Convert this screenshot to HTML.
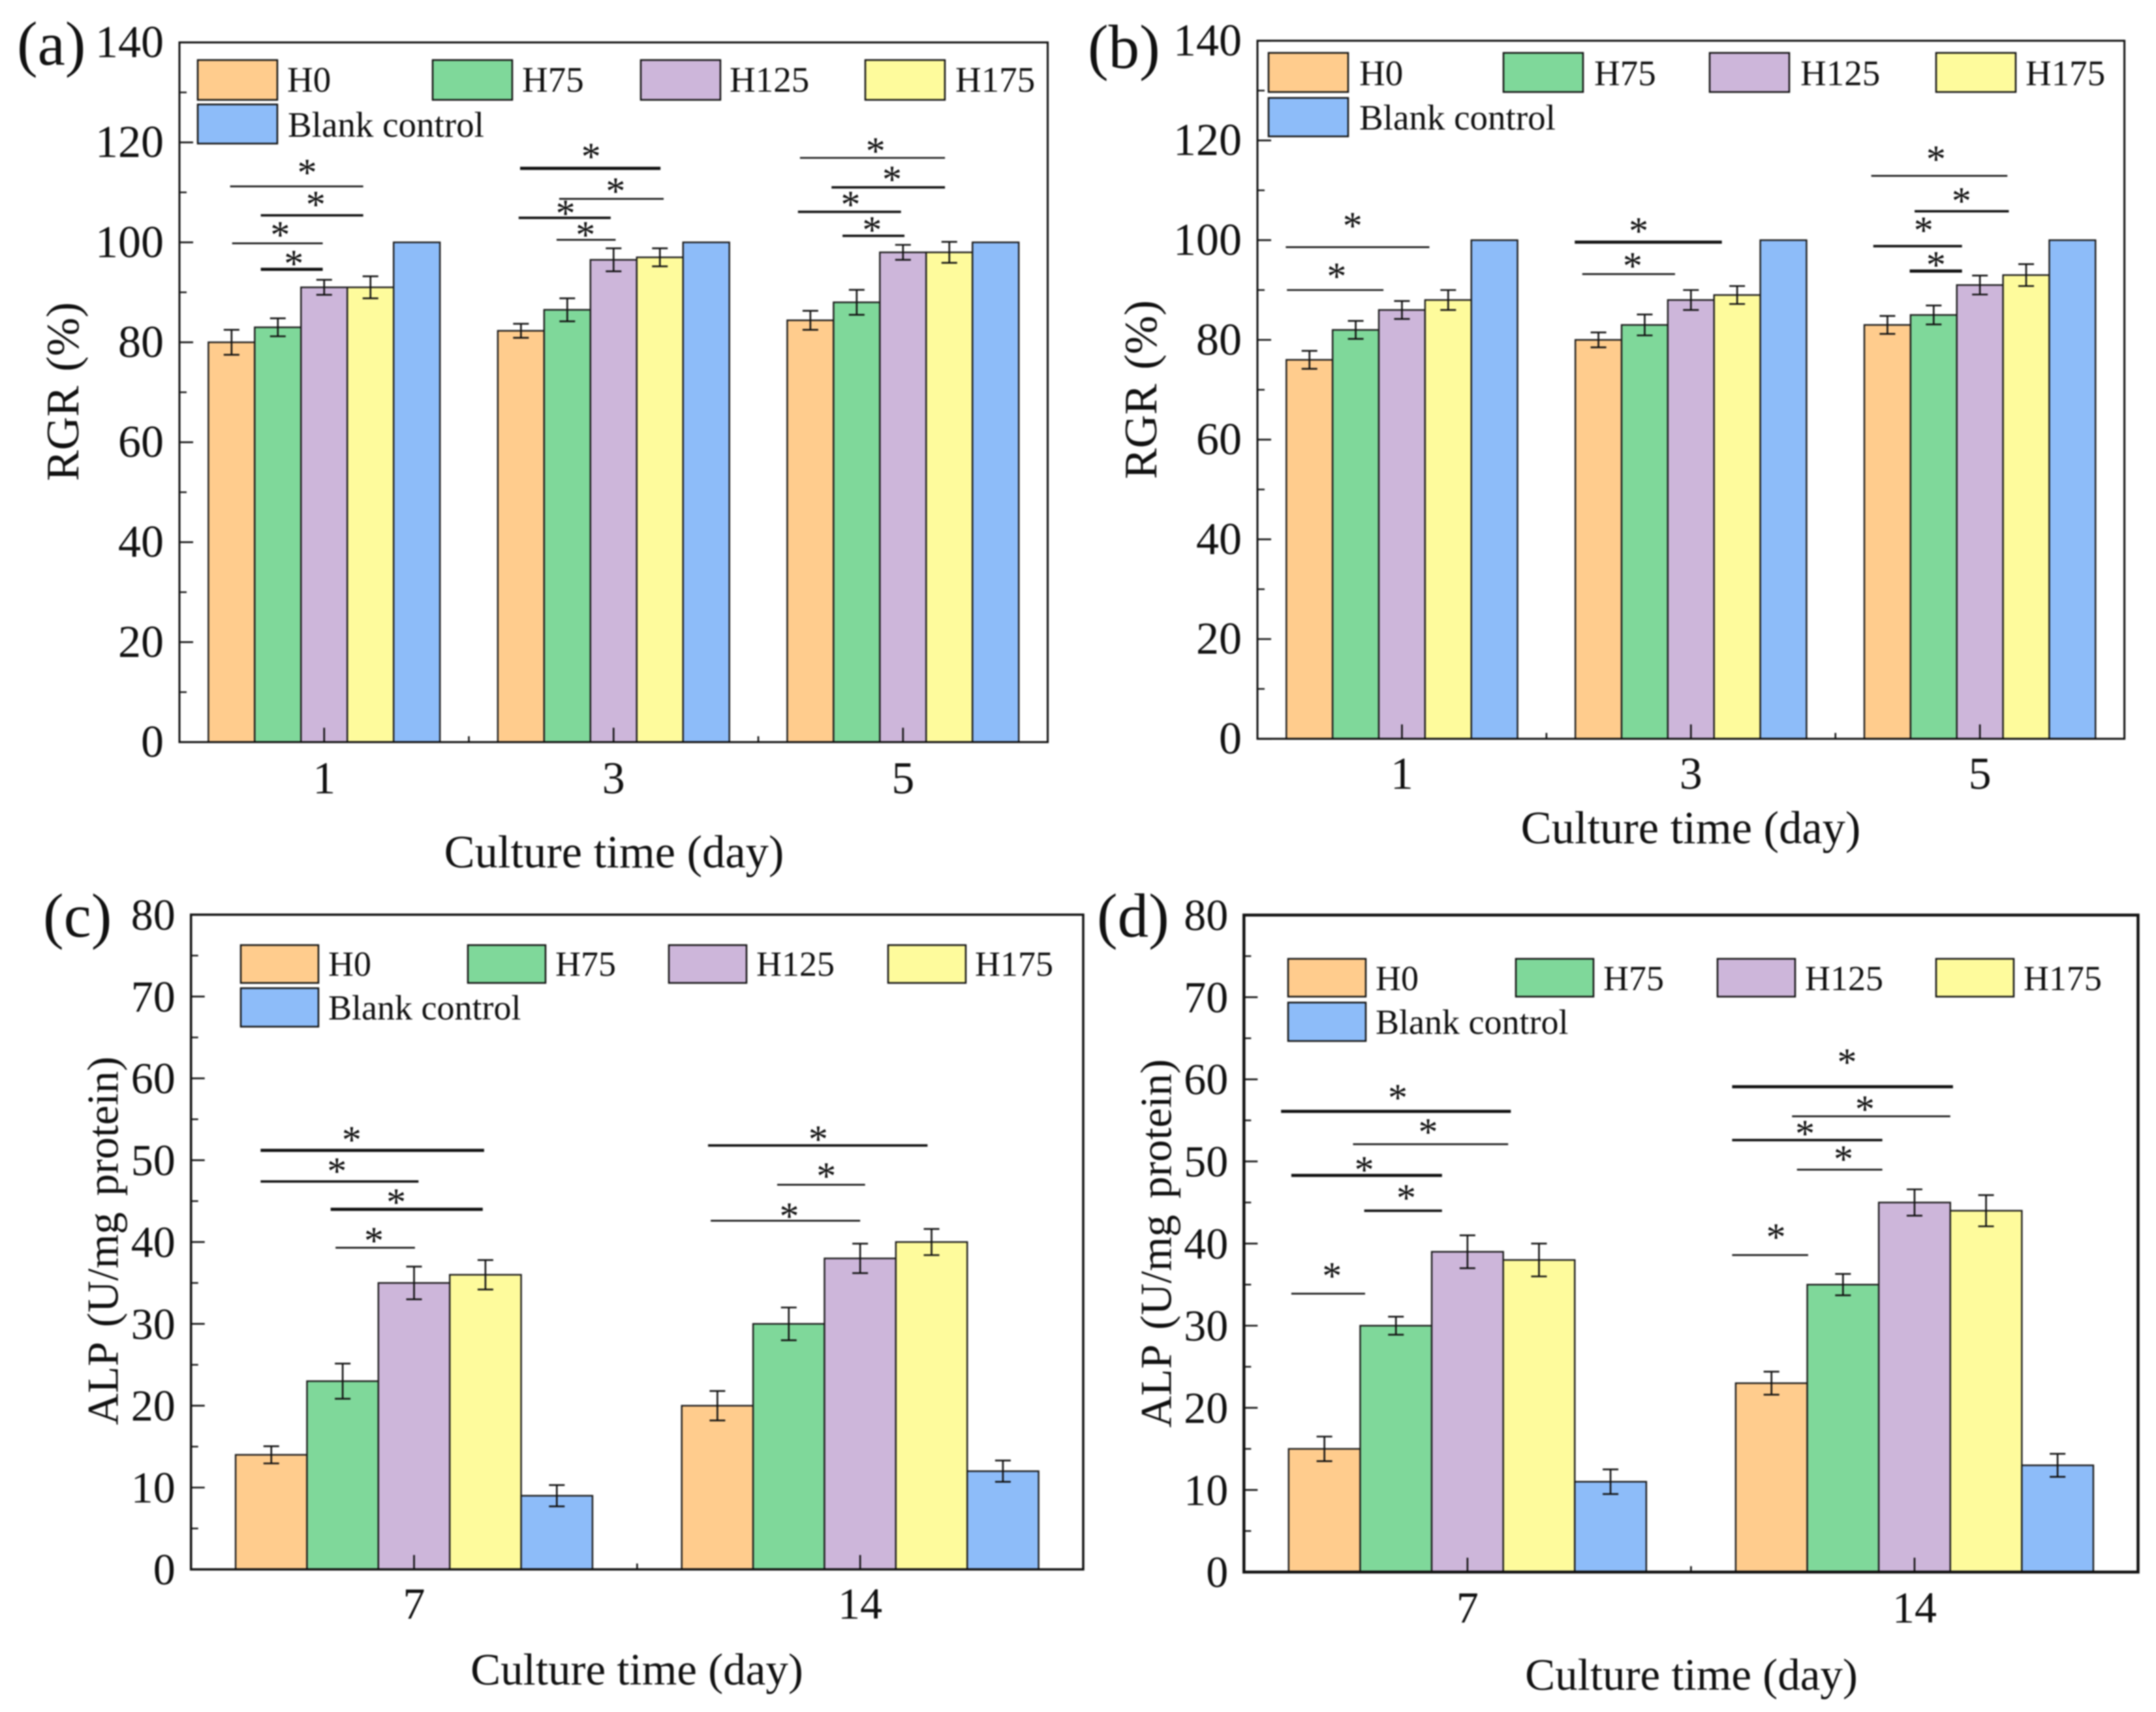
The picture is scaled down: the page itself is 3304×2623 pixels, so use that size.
<!DOCTYPE html>
<html lang="en">
<head>
<meta charset="utf-8">
<title>RGR and ALP bar charts</title>
<style>
html,body{margin:0;padding:0;background:#fff;}
svg{display:block;filter:blur(1px);}
text{font-family:"Liberation Serif",serif;fill:#111;}
.sw{stroke:#111;stroke-width:2.5;}
.o{fill:#FFCC8D}.g{fill:#7FD89A}.p{fill:#CDB6DA}.y{fill:#FEFB9C}.b{fill:#8DBCF9}
.lg{font-size:55px;dominant-baseline:central;}
.lg2{font-size:54px;dominant-baseline:central;}
.at{font-size:70.5px;text-anchor:middle;dominant-baseline:central;}
.at2{font-size:69px;text-anchor:middle;dominant-baseline:central;}
.yt{font-size:71px;text-anchor:middle;dominant-baseline:central;word-spacing:4px;}
.yt2{font-size:67.5px;text-anchor:middle;dominant-baseline:central;word-spacing:8px;}
.pl{font-size:95px;dominant-baseline:central;}
</style>
</head>
<body>
<svg id="fig" xmlns="http://www.w3.org/2000/svg" width="3304" height="2623" viewBox="0 0 3304 2623">
<rect width="3304" height="2623" fill="#fff"/>

<g id="pa">
  <g id="pa-marks"></g>
  <text class="pl" x="26" y="67">(a)</text>
  <text class="at" x="941" y="1306">Culture time (day)</text>
  <text class="yt" transform="translate(97 600) rotate(-90)">RGR (%)</text>
  <g>
    <rect class="sw o" x="303" y="92" width="122" height="61"/><text class="lg" x="440" y="122">H0</text>
    <rect class="sw g" x="663" y="92" width="122" height="61"/><text class="lg" x="800" y="122">H75</text>
    <rect class="sw p" x="982" y="92" width="122" height="61"/><text class="lg" x="1118" y="122">H125</text>
    <rect class="sw y" x="1326" y="92" width="122" height="61"/><text class="lg" x="1464" y="122">H175</text>
    <rect class="sw b" x="303" y="160" width="122" height="60"/><text class="lg" x="441" y="191">Blank control</text>
  </g>
</g>

<g id="pb">
  <g id="pb-marks"></g>
  <text class="pl" x="1667" y="72">(b)</text>
  <text class="at" x="2591" y="1269">Culture time (day)</text>
  <text class="yt" transform="translate(1749 597) rotate(-90)">RGR (%)</text>
  <g>
    <rect class="sw o" x="1944" y="81" width="122" height="60"/><text class="lg" x="2083" y="112">H0</text>
    <rect class="sw g" x="2304" y="81" width="122" height="60"/><text class="lg" x="2443" y="112">H75</text>
    <rect class="sw p" x="2620" y="81" width="122" height="60"/><text class="lg" x="2759" y="112">H125</text>
    <rect class="sw y" x="2967" y="81" width="122" height="60"/><text class="lg" x="3104" y="112">H175</text>
    <rect class="sw b" x="1944" y="150" width="122" height="59"/><text class="lg" x="2083" y="180">Blank control</text>
  </g>
</g>

<g id="pc">
  <g id="pc-marks"></g>
  <text class="pl" x="66" y="1403">(c)</text>
  <text class="at2" x="976" y="2558">Culture time (day)</text>
  <text class="yt2" transform="translate(158 1901) rotate(-90)">ALP (U/mg protein)</text>
  <g>
    <rect class="sw o" x="369" y="1448" width="119" height="58"/><text class="lg2" x="503" y="1477">H0</text>
    <rect class="sw g" x="717" y="1448" width="119" height="58"/><text class="lg2" x="851" y="1477">H75</text>
    <rect class="sw p" x="1025" y="1448" width="119" height="58"/><text class="lg2" x="1159" y="1477">H125</text>
    <rect class="sw y" x="1361" y="1448" width="119" height="58"/><text class="lg2" x="1494" y="1477">H175</text>
    <rect class="sw b" x="369" y="1514" width="119" height="59"/><text class="lg2" x="503" y="1544">Blank control</text>
  </g>
</g>

<g id="pd">
  <g id="pd-marks"></g>
  <text class="pl" x="1681" y="1403">(d)</text>
  <text class="at2" x="2592" y="2566">Culture time (day)</text>
  <text class="yt2" transform="translate(1772 1905) rotate(-90)">ALP (U/mg protein)</text>
  <g>
    <rect class="sw o" x="1974" y="1469" width="119" height="58"/><text class="lg2" x="2108" y="1499">H0</text>
    <rect class="sw g" x="2323" y="1469" width="119" height="58"/><text class="lg2" x="2457" y="1499">H75</text>
    <rect class="sw p" x="2632" y="1469" width="119" height="58"/><text class="lg2" x="2766" y="1499">H125</text>
    <rect class="sw y" x="2967" y="1469" width="119" height="58"/><text class="lg2" x="3101" y="1499">H175</text>
    <rect class="sw b" x="1974" y="1536" width="119" height="59"/><text class="lg2" x="2108" y="1566">Blank control</text>
  </g>
</g>
</svg>

<script>
var seriesNames = ['H0', 'H75', 'H125', 'H175', 'Blank control'];
var seriesColors = ['#FFCC8D', '#7FD89A', '#CDB6DA', '#FEFB9C', '#8DBCF9'];

var categoriesRGR = ['1', '3', '5'];
var categoriesALP = ['7', '14'];
var yTicksRGR = [0, 20, 40, 60, 80, 100, 120, 140];
var yTicksALP = [0, 10, 20, 30, 40, 50, 60, 70, 80];

/* values: one row per category, one column per series */
var valuesA = [[80, 83, 91, 91, 100], [82.3, 86.5, 96.5, 97, 100], [84.4, 88, 98, 98, 100]];
var errorsA = [[2.5, 1.8, 1.5, 2.2, 0], [1.4, 2.3, 2.3, 1.8, 0], [1.9, 2.5, 1.5, 2.1, 0]];
var valuesB = [[76, 82, 86, 88, 100], [80, 83, 88, 89, 100], [83, 85, 91, 93, 100]];
var errorsB = [[1.8, 1.8, 1.8, 2, 0], [1.5, 2.1, 2, 1.8, 0], [1.8, 1.9, 1.9, 2.2, 0]];
var valuesC = [[14, 23, 35, 36, 9], [20, 30, 38, 40, 12]];
var errorsC = [[1.05, 2.15, 2, 1.8, 1.3], [1.8, 2, 1.8, 1.6, 1.3]];
var valuesD = [[15, 30, 39, 38, 11], [23, 35, 45, 44, 13]];
var errorsD = [[1.5, 1.1, 2, 2, 1.5], [1.4, 1.3, 1.6, 1.9, 1.4]];

/* significance marks in data units:
   category index, start / end offset in categories, level, star offset, star level, line weight (0 thin, 0.5 medium, 1 heavy) */
var sigA = [
  [0, -0.325, 0.135, 111.2, -0.059, 115, 0], [0, -0.219, 0.135, 105.4, -0.029, 108.6, 0.5],
  [0, -0.318, -0.005, 99.8, -0.152, 102.5, 0], [0, -0.219, -0.005, 94.6, -0.105, 96.8, 1],
  [1, -0.323, 0.162, 114.8, -0.078, 118.2, 1], [1, -0.188, 0.173, 108.7, 0.007, 111.3, 0],
  [1, -0.328, -0.01, 104.9, -0.166, 106.8, 0.5], [1, -0.197, 0.007, 100.5, -0.097, 102.5, 0],
  [2, -0.356, 0.145, 116.9, -0.095, 119.3, 0], [2, -0.247, 0.145, 111, -0.038, 113.6, 0.5],
  [2, -0.363, -0.007, 106.1, -0.181, 108.6, 0.5], [2, -0.209, 0.005, 101.3, -0.107, 103.5, 0.5]
];
var sigB = [
  [0, -0.402, 0.095, 98.6, -0.171, 103.9, 0], [0, -0.398, -0.064, 90, -0.226, 93.8, 0],
  [1, -0.402, 0.107, 99.6, -0.181, 102.9, 1], [1, -0.376, -0.055, 93.2, -0.202, 95.9, 0],
  [2, -0.376, 0.095, 112.9, -0.152, 117.3, 0], [2, -0.226, 0.1, 105.8, -0.064, 108.9, 0.5],
  [2, -0.369, -0.062, 98.8, -0.195, 103, 0.5], [2, -0.243, -0.062, 93.8, -0.152, 96.1, 1]
];
var sigC = [
  [0, -0.344, 0.157, 51.2, -0.14, 53.1, 1], [0, -0.344, 0.01, 47.4, -0.173, 49.3, 0.5],
  [0, -0.187, 0.154, 44, -0.04, 45.5, 1], [0, -0.176, 0.002, 39.3, -0.09, 40.8, 0],
  [1, -0.341, 0.151, 51.8, -0.094, 53.2, 0.5], [1, -0.186, 0.011, 47, -0.076, 48.7, 0],
  [1, -0.335, 0, 42.6, -0.159, 43.8, 0]
];
var sigD = [
  [0, -0.417, 0.097, 56.1, -0.156, 58.4, 1], [0, -0.256, 0.091, 52.1, -0.088, 54.2, 0],
  [0, -0.394, -0.057, 48.3, -0.231, 49.6, 1], [0, -0.231, -0.057, 44, -0.137, 46.2, 0.5],
  [0, -0.394, -0.229, 33.9, -0.303, 36.7, 0],
  [1, -0.408, 0.086, 59.1, -0.151, 62.7, 1], [1, -0.274, 0.08, 55.5, -0.111, 57, 0],
  [1, -0.408, -0.072, 52.6, -0.245, 54, 0.5], [1, -0.263, -0.072, 49, -0.159, 50.9, 0],
  [1, -0.408, -0.238, 38.6, -0.31, 41.4, 0]
];

var NS = 'http://www.w3.org/2000/svg';
function mk(parent, tag, attrs) {
  var n = document.createElementNS(NS, tag);
  for (var k in attrs) { n.setAttribute(k, attrs[k]); }
  parent.appendChild(n);
  return n;
}

function drawPanel(id, box, cats, yTicks, values, errors, sig) {
  var root = document.getElementById(id + '-marks');
  var band = (box.x1 - box.x0) / cats.length;
  var barW = band * 0.16;
  var yMax = yTicks[yTicks.length - 1];
  var step = yTicks[1] - yTicks[0];
  function sx(c) { return box.x0 + (c + 0.5) * band; }
  function sy(v) { return box.y1 - (v / yMax) * (box.y1 - box.y0); }
  var el;

  values.forEach(function (row, c) {
    row.forEach(function (v, s) {
      var x = sx(c) + (s - 2.5) * barW;
      el = mk(root, 'rect', { x: x, y: sy(v), width: barW, height: box.y1 - sy(v), fill: seriesColors[s], stroke: '#1a1a1a', 'stroke-width': 2.4 });
      
      
    });
  });

  values.forEach(function (row, c) {
    row.forEach(function (v, s) {
      var e = errors[c][s];
      if (!e) { return; }
      var cx = sx(c) + (s - 2) * barW;
      var cap = 12;
      var d = 'M' + cx + ' ' + sy(v + e) + 'V' + sy(v - e) +
              'M' + (cx - cap) + ' ' + sy(v + e) + 'H' + (cx + cap) +
              'M' + (cx - cap) + ' ' + sy(v - e) + 'H' + (cx + cap);
      el = mk(root, 'path', { d: d, fill: 'none', stroke: '#111', 'stroke-width': 2.6 });
      
      
    });
  });

  sig.forEach(function (m) {
    el = mk(root, 'line', { x1: sx(m[0] + m[1]), x2: sx(m[0] + m[2]), y1: sy(m[3]), y2: sy(m[3]), stroke: '#111', 'stroke-width': 2.6 + m[6] * 2.2 });
    
    
    el = mk(root, 'text', { x: sx(m[0] + m[4]), y: sy(m[5]) + 28, 'font-size': 60, 'text-anchor': 'middle' });
    el.textContent = '*';
    
    
  });

  /* y axis ticks */
  yTicks.forEach(function (t, i) {
    el = mk(root, 'line', { x1: box.x0, x2: box.x0 + 21, y1: sy(t), y2: sy(t), stroke: '#111', 'stroke-width': 2.6 });
    
    
    el = mk(root, 'text', { x: box.x0 - 24, y: sy(t), 'font-size': box.fs, 'text-anchor': 'end', 'dominant-baseline': 'central' });
    el.textContent = String(t);
    
    
    if (i < yTicks.length - 1) {
      el = mk(root, 'line', { x1: box.x0, x2: box.x0 + 11, y1: sy(t + step / 2), y2: sy(t + step / 2), stroke: '#111', 'stroke-width': 2.4 });
      
      
    }
  });

  /* x axis ticks */
  cats.forEach(function (cat, c) {
    el = mk(root, 'line', { x1: sx(c), x2: sx(c), y1: box.y1, y2: box.y1 - 22, stroke: '#111', 'stroke-width': 2.6 });
    
    
    el = mk(root, 'text', { x: sx(c), y: box.xl, 'font-size': box.fs, 'text-anchor': 'middle', 'dominant-baseline': 'central' });
    el.textContent = cat;
    
    
    if (c < cats.length - 1) {
      el = mk(root, 'line', { x1: sx(c + 0.5), x2: sx(c + 0.5), y1: box.y1, y2: box.y1 - 9, stroke: '#111', 'stroke-width': 2.6 });
      
      
    }
  });

  el = mk(root, 'rect', { x: box.x0, y: box.y0, width: box.x1 - box.x0, height: box.y1 - box.y0, fill: 'none', stroke: '#111', 'stroke-width': box.sw });
  
  
}

drawPanel('pa', { x0: 275, x1: 1605.6, y0: 65, y1: 1137, xl: 1193, fs: 70, sw: 3 }, categoriesRGR, yTicksRGR, valuesA, errorsA, sigA);
drawPanel('pb', { x0: 1927, x1: 3255.6, y0: 62.4, y1: 1131.9, xl: 1186, fs: 70, sw: 3 }, categoriesRGR, yTicksRGR, valuesB, errorsB, sigB);
drawPanel('pc', { x0: 292.7, x1: 1660, y0: 1401.4, y1: 2404.5, xl: 2457, fs: 68, sw: 3.5 }, categoriesALP, yTicksALP, valuesC, errorsC, sigC);
drawPanel('pd', { x0: 1906.3, x1: 3276.5, y0: 1402, y1: 2408.6, xl: 2463, fs: 68, sw: 4.5 }, categoriesALP, yTicksALP, valuesD, errorsD, sigD);
</script>
</body>
</html>
